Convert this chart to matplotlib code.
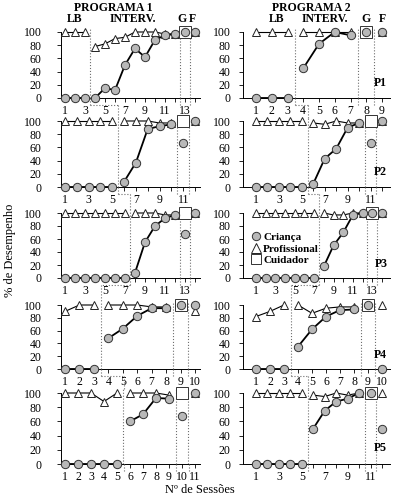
import numpy as np
import matplotlib
matplotlib.use('Agg')
import matplotlib.pyplot as plt
from matplotlib.lines import Line2D

plt.rcParams['font.family'] = ['Liberation Serif', 'DejaVu Serif']

W, H = 399, 498
nan = np.nan

# ---- Programa 1 (left column), P1..P5 ----
p1_lb = [3, 5, 7, 3, 5]        # last baseline session
p1_g = [13, 11, 13, 9, 10]     # generalization session (F = G + 1)
p1_crianca = [
    [0, 0, 0, 0, 15, 12, 50, 75, 62, 88, 95, 97, 100, 100],
    [0, 0, 0, 0, 0, 8, 37, 88, 92, 95, 67, 100],
    [0, 0, 0, 0, 0, 0, 0, 8, 55, 80, 92, 97, 67, 100],
    [0, 0, 0, 48, 63, 83, 95, 95, 100, 100],
    [0, 0, 0, 0, 0, 60, 70, 93, 92, 67, 100],
]
p1_prof = [
    [100, 100, 100, 78, 82, 90, 92, 100, 100, 100, 97, 97, nan, 100],
    [100, 100, 100, 100, 100, 100, 100, 100, 97, 97, nan, 100],
    [100, 100, 100, 100, 100, 100, 100, 100, 100, 100, 97, 97, nan, 100],
    [90, 100, 100, 100, 100, 100, 97, 97, nan, 90],
    [100, 100, 100, 88, 100, 100, 100, 100, 97, nan, 100],
]
p1_cuidador = [100, 100, 100, 100, 100]
p1_xlabels = [
    [1, 3, 5, 7, 9, 11, 13],
    [1, 3, 5, 7, 9, 11],
    [1, 3, 5, 7, 9, 11, 13],
    [1, 2, 3, 4, 5, 6, 7, 8, 9, 10],
    [1, 2, 3, 4, 5, 6, 7, 8, 9, 10, 11],
]

# ---- Programa 2 (right column), P1..P5 ----
p2_lb = [3, 5, 7, 3, 5]
p2_g = [8, 11, 13, 9, 11]
p2_crianca = [
    [0, 0, 0, 45, 82, 100, 95, 100, 100],
    [0, 0, 0, 0, 0, 5, 43, 58, 90, 97, 67, 100],
    [0, 0, 0, 0, 0, 0, 0, 18, 50, 70, 97, 100, 100, 100],
    [0, 0, 0, 35, 62, 82, 92, 93, 100, 0],
    [0, 0, 0, 0, 0, 50, 75, 88, 92, 100, 100, 50],
]
p2_prof = [
    [100, 100, 100, 100, 100, 100, 100, nan, 100],
    [100, 100, 100, 100, 100, 97, 95, 100, 97, 97, nan, 100],
    [100, 100, 100, 100, 100, 100, 100, 100, 97, 97, 100, 100, nan, 100],
    [82, 90, 100, 100, 87, 95, 97, 97, nan, 100],
    [100, 100, 100, 100, 100, 97, 95, 100, 97, 100, nan, 100],
]
p2_cuidador = [100, 100, 100, 100, 100]
p2_xlabels = [
    [1, 2, 3, 4, 5, 6, 7, 8, 9],
    [1, 3, 5, 7, 9, 11],
    [1, 3, 5, 7, 9, 11, 13],
    [1, 2, 3, 4, 5, 6, 7, 8, 9, 10],
    [1, 3, 5, 7, 9, 11],
]

participantes = ['P1', 'P2', 'P3', 'P4', 'P5']

# pixel layout of the panels
row_bot = [98, 187, 278, 369, 464]
row_top = [32, 121, 213, 305, 393]
cols = [
    dict(x0=61, x1=200, first=65, last=195, pad=11),
    dict(x0=243, x1=390, first=256, last=382, pad=6),
]

gray = '#b8b8b8'
dot = dict(ls=':', color='#6e6e6e', lw=0.8)

fig = plt.figure(figsize=(W / 100, H / 100), dpi=100)


def fx(x):
    return x / W


def fy(y):
    return 1 - y / H


def xpix(c, n, x):
    s = (c['last'] - c['first']) / (n - 1)
    return c['first'] + (x - 1) * s


def fline(xs, ys):
    fig.add_artist(Line2D([fx(v) for v in xs], [fy(v) for v in ys],
                          transform=fig.transFigure, **dot))


data = [
    (p1_lb, p1_g, p1_crianca, p1_prof, p1_cuidador, p1_xlabels),
    (p2_lb, p2_g, p2_crianca, p2_prof, p2_cuidador, p2_xlabels),
]

axes = {}
for ci, (lbs, gs, crs, prs, cus, xls) in enumerate(data):
    c = cols[ci]
    for r in range(5):
        b, t = row_bot[r], row_top[r]
        cr = np.array(crs[r], float)
        pr = np.array(prs[r], float)
        n = len(cr)
        lb, g = lbs[r], gs[r]
        x = np.arange(1, n + 1)
        ax = fig.add_axes([fx(c['x0']), fy(b), (c['x1'] - c['x0']) / W, (b - t) * 1.05 / H])
        axes[(ci, r)] = ax

        for a, e in [(0, lb), (lb, g - 1)]:
            ax.plot(x[a:e], pr[a:e], '-^', color='k', lw=0.8, ms=6.3,
                    mfc='white', mec='#222', mew=0.7, clip_on=False, zorder=3)
            ax.plot(x[a:e], cr[a:e], '-o', color='k', lw=1.3, ms=6,
                    mfc=gray, mec='#333', mew=0.7, clip_on=False, zorder=4)
        ax.plot([g], [cus[r]], 's', ms=8, mfc='white', mec='#333', mew=0.7,
                clip_on=False, zorder=3)
        ax.plot(x[g - 1:], pr[g - 1:], '^', ms=6.3, mfc='white', mec='#222',
                mew=0.7, clip_on=False, zorder=3)
        ax.plot(x[g - 1:], cr[g - 1:], 'o', ms=6, mfc=gray, mec='#333',
                mew=0.7, clip_on=False, zorder=4)

        for xv in (lb + 0.5, g - 0.5, g + 0.5):
            ax.plot([xv, xv], [0, 105], clip_on=False, zorder=1, **dot)

        s = (c['last'] - c['first']) / (n - 1)
        ax.set_xlim(1 - (c['first'] - c['x0']) / s, n + (c['x1'] - c['last']) / s)
        ax.set_ylim(0, 105)
        ax.set_xticks(x)
        ax.set_xticklabels([str(v) if v in xls[r] else '' for v in x])
        ax.set_yticks([0, 20, 40, 60, 80, 100])
        ax.spines['top'].set_visible(False)
        ax.spines['right'].set_visible(False)
        ax.spines['left'].set_bounds(0, 100)
        ax.spines['left'].set_linewidth(0.7)
        ax.spines['bottom'].set_linewidth(0.7)
        ax.tick_params(axis='x', length=3, width=0.6, labelsize=8.5, pad=2)
        ax.tick_params(axis='y', length=3, width=0.6, labelsize=8.5, pad=c['pad'])
        ax.patch.set_alpha(0)

        if ci == 1:
            ax.text(n - 0.1, 22, participantes[r], fontsize=8.5, fontweight='bold',
                    ha='center', va='center')

        # phase lines continue below the axis (staircase to the next panel)
        for xv in (lb + 0.5, g - 0.5, g + 0.5):
            xp = xpix(c, n, xv)
            fline([xp, xp], [b, b + 7])
        if r < 4:
            n2 = len(crs[r + 1])
            xa = xpix(c, n, lb + 0.5)
            xb = xpix(c, n2, lbs[r + 1] + 0.5)
            tnext = row_bot[r + 1] - (row_bot[r + 1] - row_top[r + 1]) * 1.05
            fline([xa, xb], [b + 7, b + 7])
            fline([xb, xb], [b + 7, tnext])

# headers
hdr = dict(fontsize=8.5, fontweight='bold', ha='center', va='center')
fig.text(fx(113), fy(8), 'PROGRAMA 1', **hdr)
fig.text(fx(75), fy(19), 'LB', **hdr)
fig.text(fx(133), fy(19), 'INTERV.', **hdr)
fig.text(fx(182), fy(19), 'G', **hdr)
fig.text(fx(192), fy(19), 'F', **hdr)
fig.text(fx(311), fy(8), 'PROGRAMA 2', **hdr)
fig.text(fx(277), fy(19), 'LB', **hdr)
fig.text(fx(325), fy(19), 'INTERV.', **hdr)
fig.text(fx(366), fy(19), 'G', **hdr)
fig.text(fx(382), fy(19), 'F', **hdr)

fig.text(fx(10), fy(250), '% de Desempenho', rotation=90, fontsize=9,
         ha='center', va='center')
fig.text(fx(200), fy(490), 'Nº de Sessões', fontsize=9, ha='center', va='center')

# legend in P3 of Programa 2
handles = [
    Line2D([], [], ls='', marker='o', ms=6, mfc=gray, mec='#333', mew=0.7),
    Line2D([], [], ls='', marker='^', ms=6.5, mfc='white', mec='#222', mew=0.7),
    Line2D([], [], ls='', marker='s', ms=7, mfc='white', mec='#333', mew=0.7),
]
axes[(1, 2)].legend(handles, ['Criança', 'Profissional', 'Cuidador'],
                    loc='upper left', bbox_to_anchor=(0.0, 0.78), frameon=False,
                    handletextpad=0.1, labelspacing=0.15, borderpad=0.2,
                    handlelength=1.0, prop=dict(weight='bold', size=8))

fig.savefig('out.png', dpi=100)
